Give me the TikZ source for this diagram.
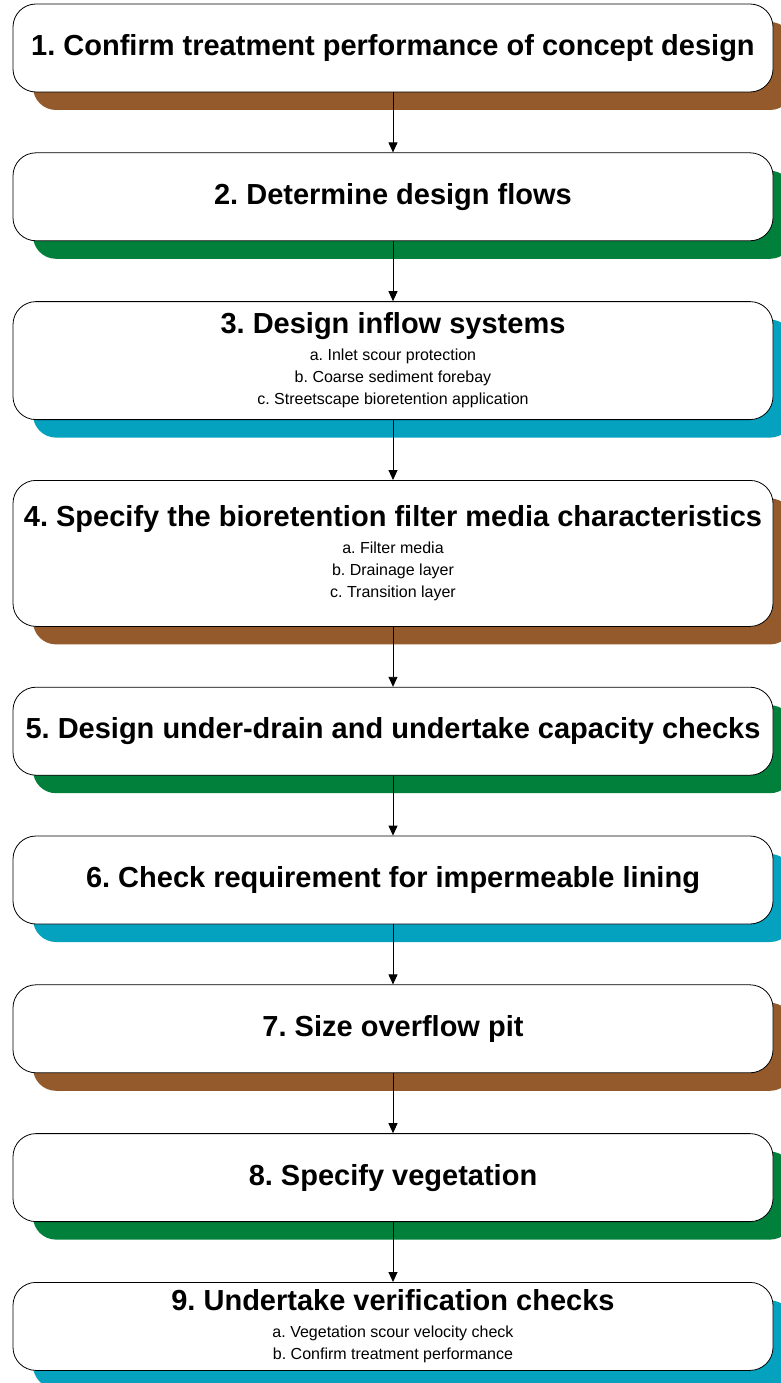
\documentclass[tikz,border=0pt]{standalone}
\usepackage{fontspec}
\setmainfont{Liberation Sans}
\usetikzlibrary{arrows.meta,positioning,shadows}
\frenchspacing
\definecolor{stepbrown}{HTML}{955A2C}
\definecolor{stepgreen}{HTML}{00803A}
\definecolor{stepteal}{HTML}{04A2BF}
\tikzset{
  stepbox/.style={draw=black, fill=white, rounded corners=23pt, align=center, inner sep=4pt, minimum width=760pt, minimum height=88pt, line width=0.8pt, font=\fontsize{29}{22}\selectfont\bfseries},
  brownshadow/.style={general shadow={shadow xshift=20pt, shadow yshift=-18pt, fill=stepbrown}},
  greenshadow/.style={general shadow={shadow xshift=20pt, shadow yshift=-18pt, fill=stepgreen}},
  tealshadow/.style={general shadow={shadow xshift=20pt, shadow yshift=-18pt, fill=stepteal}},
  arrow/.style={-{Triangle[length=10pt,width=9pt]}, line width=0.9pt}
}
\newcommand{\subline}{\fontsize{16}{22}\selectfont\mdseries}
\begin{document}
\begin{tikzpicture}[x=1pt, y=1pt, node distance=60pt]
\useasboundingbox (0,0) rectangle (780,-1383);
\node[stepbox, brownshadow] (confirm) at (393,-48) {1. Confirm treatment performance of concept design};
\node[stepbox, greenshadow, below=of confirm] (flows) {2. Determine design flows};
\node[stepbox, tealshadow, below=of flows, minimum height=118pt] (inflow) {3. Design inflow systems\\[5pt]
  \subline a. Inlet scour protection\\ \subline b. Coarse sediment forebay\\ \subline c. Streetscape bioretention application};
\node[stepbox, brownshadow, below=of inflow, minimum height=146pt] (media) {4. Specify the bioretention filter media characteristics\\[5pt]
  \subline a. Filter media\\ \subline b. Drainage layer\\ \subline c. Transition layer};
\node[stepbox, greenshadow, below=of media] (underdrain) {5. Design under-drain and undertake capacity checks};
\node[stepbox, tealshadow, below=of underdrain] (lining) {6. Check requirement for impermeable lining};
\node[stepbox, brownshadow, below=of lining] (overflow) {7. Size overflow pit};
\node[stepbox, greenshadow, below=of overflow] (vegetation) {8. Specify vegetation};
\node[stepbox, tealshadow, below=of vegetation] (verify) {9. Undertake verification checks\\[5pt]
  \subline a. Vegetation scour velocity check\\ \subline b. Confirm treatment performance};
\draw[arrow] (confirm) -- (flows);
\draw[arrow] (flows) -- (inflow);
\draw[arrow] (inflow) -- (media);
\draw[arrow] (media) -- (underdrain);
\draw[arrow] (underdrain) -- (lining);
\draw[arrow] (lining) -- (overflow);
\draw[arrow] (overflow) -- (vegetation);
\draw[arrow] (vegetation) -- (verify);
\end{tikzpicture}
\end{document}
